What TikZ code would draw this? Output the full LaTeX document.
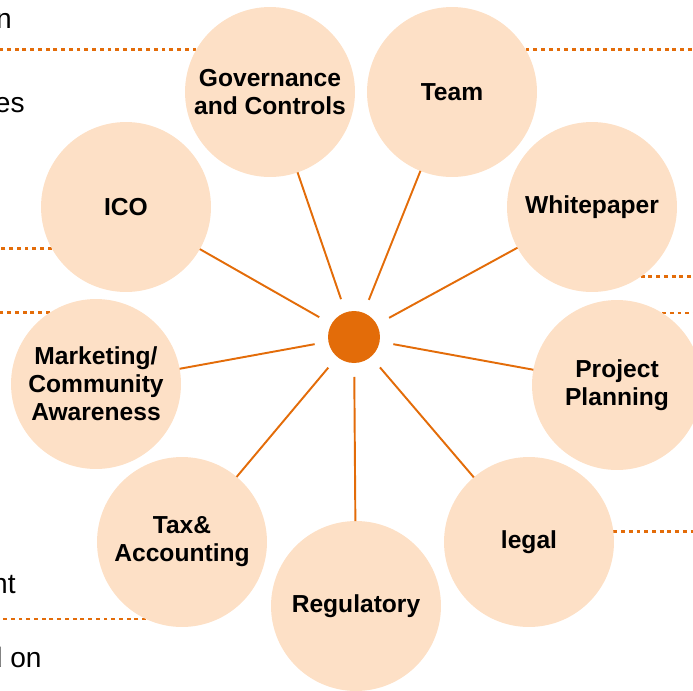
\documentclass[tikz,border=0pt]{standalone}
\usepackage{fontspec}
\setmainfont{Liberation Sans}
\usetikzlibrary{backgrounds}
\definecolor{peach}{HTML}{FDE0C6}
\definecolor{rust}{HTML}{E36C09}
\tikzset{
  petal/.style={circle, fill=peach, minimum size=3.4cm, inner sep=0pt, outer sep=0pt,
    align=center, font=\fontsize{14}{15.9}\selectfont\bfseries},
  hubdot/.style={circle, fill=rust, minimum size=1.04cm, inner sep=0pt, outer sep=0.28cm},
  spoke/.style={draw=rust, line width=1.1pt},
  guide/.style={draw=rust, line width=1.6pt, dash pattern=on 2.2pt off 2.2pt},
  cuttext/.style={anchor=base east, inner sep=0pt, font=\fontsize{16}{19}\selectfont}
}
\begin{document}
\begin{tikzpicture}[x=0.02cm, y=-0.02cm]
                \useasboundingbox (0,0) rectangle (693,690);
                \clip (0,0) rectangle (693,690);
                \coordinate (lft) at (0,0);
                \coordinate (rgt) at (693,0);
                \node[hubdot] (hub) at (354,337) {};
                \foreach \n/\pos/\txt in {
                    gov/{270,92}/{Governance\\and Controls},
                    team/{452,92}/{Team},
                    white/{592,207}/{Whitepaper},
                    plan/{617,385}/{Project\\Planning},
                    legal/{529,542}/{legal},
                    reg/{356,606}/{Regulatory},
                    tax/{182,542}/{Tax\&\\Accounting},
                    mkt/{96,384}/{Marketing/\\Community\\Awareness},
                    ico/{126,207}/{ICO}}
                {
                    \node[petal] (\n) at (\pos) {\txt};
                    \draw[spoke] (hub) -- (\n);
                }
                \begin{scope}[on background layer]
                    \draw[guide] (gov.150) -- (gov.150 -| lft);
                    \draw[guide] (team.30) -- (team.30 -| rgt);
                    \draw[guide] (ico.209) -- (ico.209 -| lft);
                    \draw[guide] (mkt.123) -- (mkt.123 -| lft);
                    \draw[guide] (white.-55) -- (white.-55 -| rgt);
                    \draw[guide] (plan.58) -- (plan.58 -| rgt);
                    \draw[guide] (tax.245) -- (tax.245 -| lft);
                    \draw[guide] (legal.7) -- (legal.7 -| rgt);
                \end{scope}
                \node[cuttext] (t1) at (12,28) {n};
                \node[cuttext] (t2) at (25,112) {es};
                \node[cuttext] (t3) at (16,593) {nt};
                \node[cuttext] (t4) at (42,667) {d on};
            \end{tikzpicture}
\end{document}
